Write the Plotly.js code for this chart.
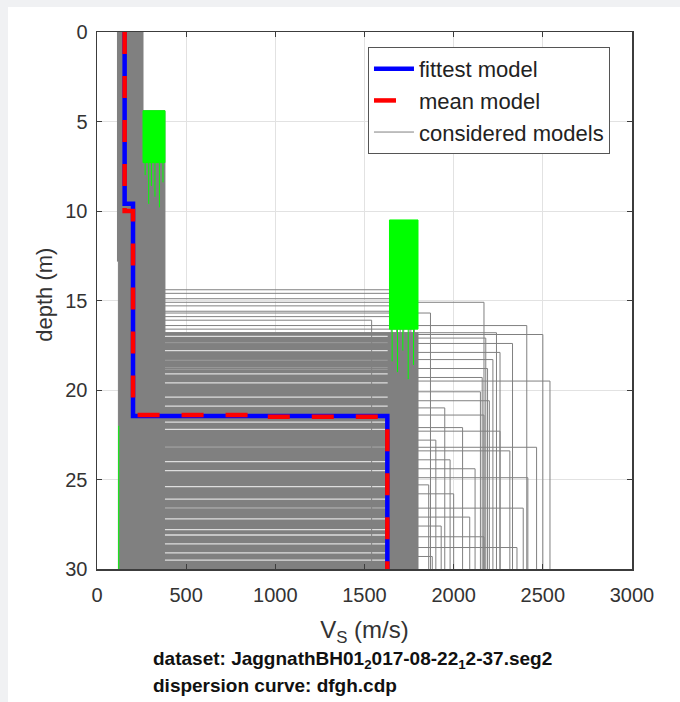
<!DOCTYPE html>
<html>
<head>
<meta charset="utf-8">
<script src="https://cdn.plot.ly/plotly-3.0.1.min.js"></script>
<style>
  html, body { margin:0; padding:0; background:#f0f1f3; width:680px; height:702px; overflow:hidden; }
  #panel { position:absolute; left:8px; top:7px; width:672px; height:695px; background:#ffffff; }
  #chart { position:absolute; left:0; top:0; width:680px; height:702px; }
</style>
</head>
<body>
<div id="panel"></div>
<div id="chart"></div>
<script>
// ---------- axes ----------
const xTickVals = [0, 500, 1000, 1500, 2000, 2500, 3000];
const yTickVals = [0, 5, 10, 15, 20, 25, 30];

// ---------- fittest / mean models (Vs m/s, depth m) ----------
const fittestVs    = [155, 155, 202, 202, 1628, 1628];
const fittestDepth = [0, 9.6, 9.6, 21.45, 21.45, 30];
const meanVs       = [155, 155, 202, 202, 913, 913, 1628, 1628];
const meanDepth    = [0, 10.0, 10.0, 21.4, 21.4, 21.5, 21.5, 30];

// ---------- envelope of the dense cloud of considered models ----------
const cloudVs    = [112, 258, 258, 381, 381, 1800, 1800, 120, 120, 112];
const cloudDepth = [0, 0, 4.4, 4.4, 16.8, 16.8, 30, 30, 12.8, 12.8];

// thin gaps inside the dense cloud (depth m), spanning Vs range below
const gapDepth = [17.0, 17.4, 17.8, 18.3, 18.8, 19.1, 19.6, 20.4, 20.9, 21.8, 22.2, 23.2,
                  24.0, 24.5, 25.4, 26.1, 26.6, 27.2, 27.8, 28.1, 28.6, 29.1, 29.5];
const gapVsMin = 381;
const gapVsMax = 1630;

// ---------- individually visible considered models ----------
const modelV1 = [130,165,210,145,120,190,240,155,175,135,225,160,115,200,150,250,140,185,170,125,
                 230,160,205,145,138,178,220,152,118,195,245,168,132,210,158,188,126,236,172,148];
const modelD1 = [6.2,9.8,11.5,7.4,12.3,8.1,5.0,10.4,9.1,6.8,4.6,11.0,12.6,8.7,9.9,5.5,7.9,10.8,9.3,11.9,
                 6.0,8.4,10.1,7.1,12.1,9.6,5.3,10.6,11.4,8.9,4.8,9.0,12.4,7.6,10.2,8.0,11.7,5.8,9.4,10.0];
const modelV2 = [290,215,345,260,230,370,305,240,210,330,280,360,225,300,250,375,270,215,340,235,
                 310,255,365,220,285,320,245,350,205,295,265,335,228,315,248,372,212,290,326,238];
const modelD2 = [14.4,14.6,14.9,15.1,15.3,15.6,15.7,15.9,16.1,16.4,16.6,16.8,
                 16.9,17.1,17.4,17.9,18.3,18.8,19.3,19.5,20.1,20.6,21.0,21.4,
                 22.1,22.3,22.8,23.2,23.4,23.9,24.4,24.9,25.3,25.8,26.6,27.1,27.6,28.2,28.8,29.3];
const modelV3 = [1700,1760,1680,2170,1720,1650,1870,1750,1540,2410,1780,2240,
                 2500,2180,2330,2260,2220,2190,2160,2540,2150,2200,1950,2170,
                 2050,2260,1900,2465,2315,1980,2120,2416,1860,2000,2390,2090,1930,2170,2355,1880];
const maxDepth = 30;

// ---------- green (best-misfit) ranges ----------
const greenBoxVsMin  = [258, 1640];
const greenBoxVsMax  = [381, 1800];
const greenBoxTop    = [4.4, 10.5];
const greenBoxBottom = [7.3, 16.6];
const greenLineVs     = [270, 290, 305, 325, 350, 370, 1655, 1685, 1715, 1745, 1775, 122];
const greenLineTop    = [7.3, 7.3, 7.3, 7.3, 7.3, 7.3, 16.6, 16.6, 16.6, 16.6, 16.6, 22.0];
const greenLineBottom = [8.0, 9.6, 8.6, 9.2, 9.8, 8.4, 18.4, 19.0, 17.8, 19.4, 18.6, 30];

// ---------- build traces ----------
const grey = '#808080';
const traces = [];

traces.push({
  x: cloudVs, y: cloudDepth, type: 'scatter', mode: 'lines', fill: 'toself',
  fillcolor: grey, line: {color: grey, width: 1}, showlegend: false, hoverinfo: 'skip'
});

const gx = [], gy = [];
gapDepth.forEach(d => { gx.push(gapVsMin, gapVsMax, null); gy.push(d, d, null); });
traces.push({
  x: gx, y: gy, type: 'scatter', mode: 'lines',
  line: {color: 'rgba(245,245,245,0.8)', width: 1.3}, showlegend: false, hoverinfo: 'skip'
});

const mx = [], my = [];
for (let i = 0; i < modelV1.length; i++) {
  mx.push(modelV1[i], modelV1[i], modelV2[i], modelV2[i], modelV3[i], modelV3[i], null);
  my.push(0, modelD1[i], modelD1[i], modelD2[i], modelD2[i], maxDepth, null);
}
traces.push({
  x: mx, y: my, type: 'scatter', mode: 'lines', name: 'considered models',
  line: {color: grey, width: 1}, legendrank: 3
});

for (let i = 0; i < greenBoxVsMin.length; i++) {
  traces.push({
    x: [greenBoxVsMin[i], greenBoxVsMax[i], greenBoxVsMax[i], greenBoxVsMin[i], greenBoxVsMin[i]],
    y: [greenBoxTop[i], greenBoxTop[i], greenBoxBottom[i], greenBoxBottom[i], greenBoxTop[i]],
    type: 'scatter', mode: 'lines', fill: 'toself', fillcolor: '#00ff00',
    line: {color: '#00ff00', width: 1}, showlegend: false, hoverinfo: 'skip'
  });
}
const glx = [], gly = [];
for (let i = 0; i < greenLineVs.length; i++) {
  glx.push(greenLineVs[i], greenLineVs[i], null);
  gly.push(greenLineTop[i], greenLineBottom[i], null);
}
traces.push({
  x: glx, y: gly, type: 'scatter', mode: 'lines',
  line: {color: '#00ff00', width: 1}, showlegend: false, hoverinfo: 'skip'
});

traces.push({
  x: fittestVs, y: fittestDepth, type: 'scatter', mode: 'lines', name: 'fittest model',
  line: {color: '#0000ff', width: 4.5}, legendrank: 1
});
traces.push({
  x: meanVs, y: meanDepth, type: 'scatter', mode: 'lines', name: 'mean model',
  line: {color: '#ff0000', width: 4.5, dash: '22px,22px'}, legendrank: 2
});

const fontFam = 'Liberation Sans, Arial, sans-serif';
const layout = {
  width: 680, height: 702,
  paper_bgcolor: 'rgba(0,0,0,0)', plot_bgcolor: '#ffffff',
  margin: {l: 97, r: 48, t: 32, b: 133},
  font: {family: fontFam, color: '#333333', size: 20},
  showlegend: true,
  legend: {
    x: 0.5065, y: 0.972, xanchor: 'left', yanchor: 'top',
    bgcolor: '#ffffff', bordercolor: '#555555', borderwidth: 1,
    font: {family: fontFam, size: 22, color: '#222222'},
    itemwidth: 40
  },
  xaxis: {
    range: [0, 3000], tickvals: xTickVals, ticktext: xTickVals.map(String),
    showgrid: true, gridcolor: '#e2e2e2', gridwidth: 1, zeroline: false,
    showline: true, linecolor: '#3c3c3c', linewidth: 1.5, mirror: 'ticks',
    ticks: 'inside', ticklen: 5, tickcolor: '#3c3c3c',
    tickfont: {size: 20, color: '#333333'}, ticklabelstandoff: 7,
    title: {text: 'V<sub>S</sub> (m/s)', font: {size: 24, color: '#333333'}, standoff: 16}
  },
  yaxis: {
    range: [30, 0], tickvals: yTickVals, ticktext: yTickVals.map(String),
    showgrid: true, gridcolor: '#e2e2e2', gridwidth: 1, zeroline: false,
    showline: true, linecolor: '#3c3c3c', linewidth: 1.5, mirror: 'ticks',
    ticks: 'inside', ticklen: 5, tickcolor: '#3c3c3c',
    tickfont: {size: 20, color: '#333333'}, ticklabelstandoff: 4
  },
  annotations: [
    {xref: 'paper', yref: 'paper', x: -0.098, y: 0.51, xanchor: 'center', yanchor: 'middle',
     showarrow: false, textangle: -90, text: 'depth (m)',
     font: {family: fontFam, size: 22, color: '#333333'}},
    {xref: 'paper', yref: 'paper', x: 0.1, y: -0.1695, xanchor: 'left', yanchor: 'middle',
     showarrow: false, text: '<b>dataset: JaggnathBH01<sub>2</sub>017-08-22<sub>1</sub>2-37.seg2</b>',
     font: {family: fontFam, size: 19, color: '#111111'}},
    {xref: 'paper', yref: 'paper', x: 0.1, y: -0.2165, xanchor: 'left', yanchor: 'middle',
     showarrow: false, text: '<b>dispersion curve: dfgh.cdp</b>',
     font: {family: fontFam, size: 19, color: '#111111'}}
  ]
};

Plotly.newPlot('chart', traces, layout, {staticPlot: true, displayModeBar: false});
</script>
</body>
</html>
